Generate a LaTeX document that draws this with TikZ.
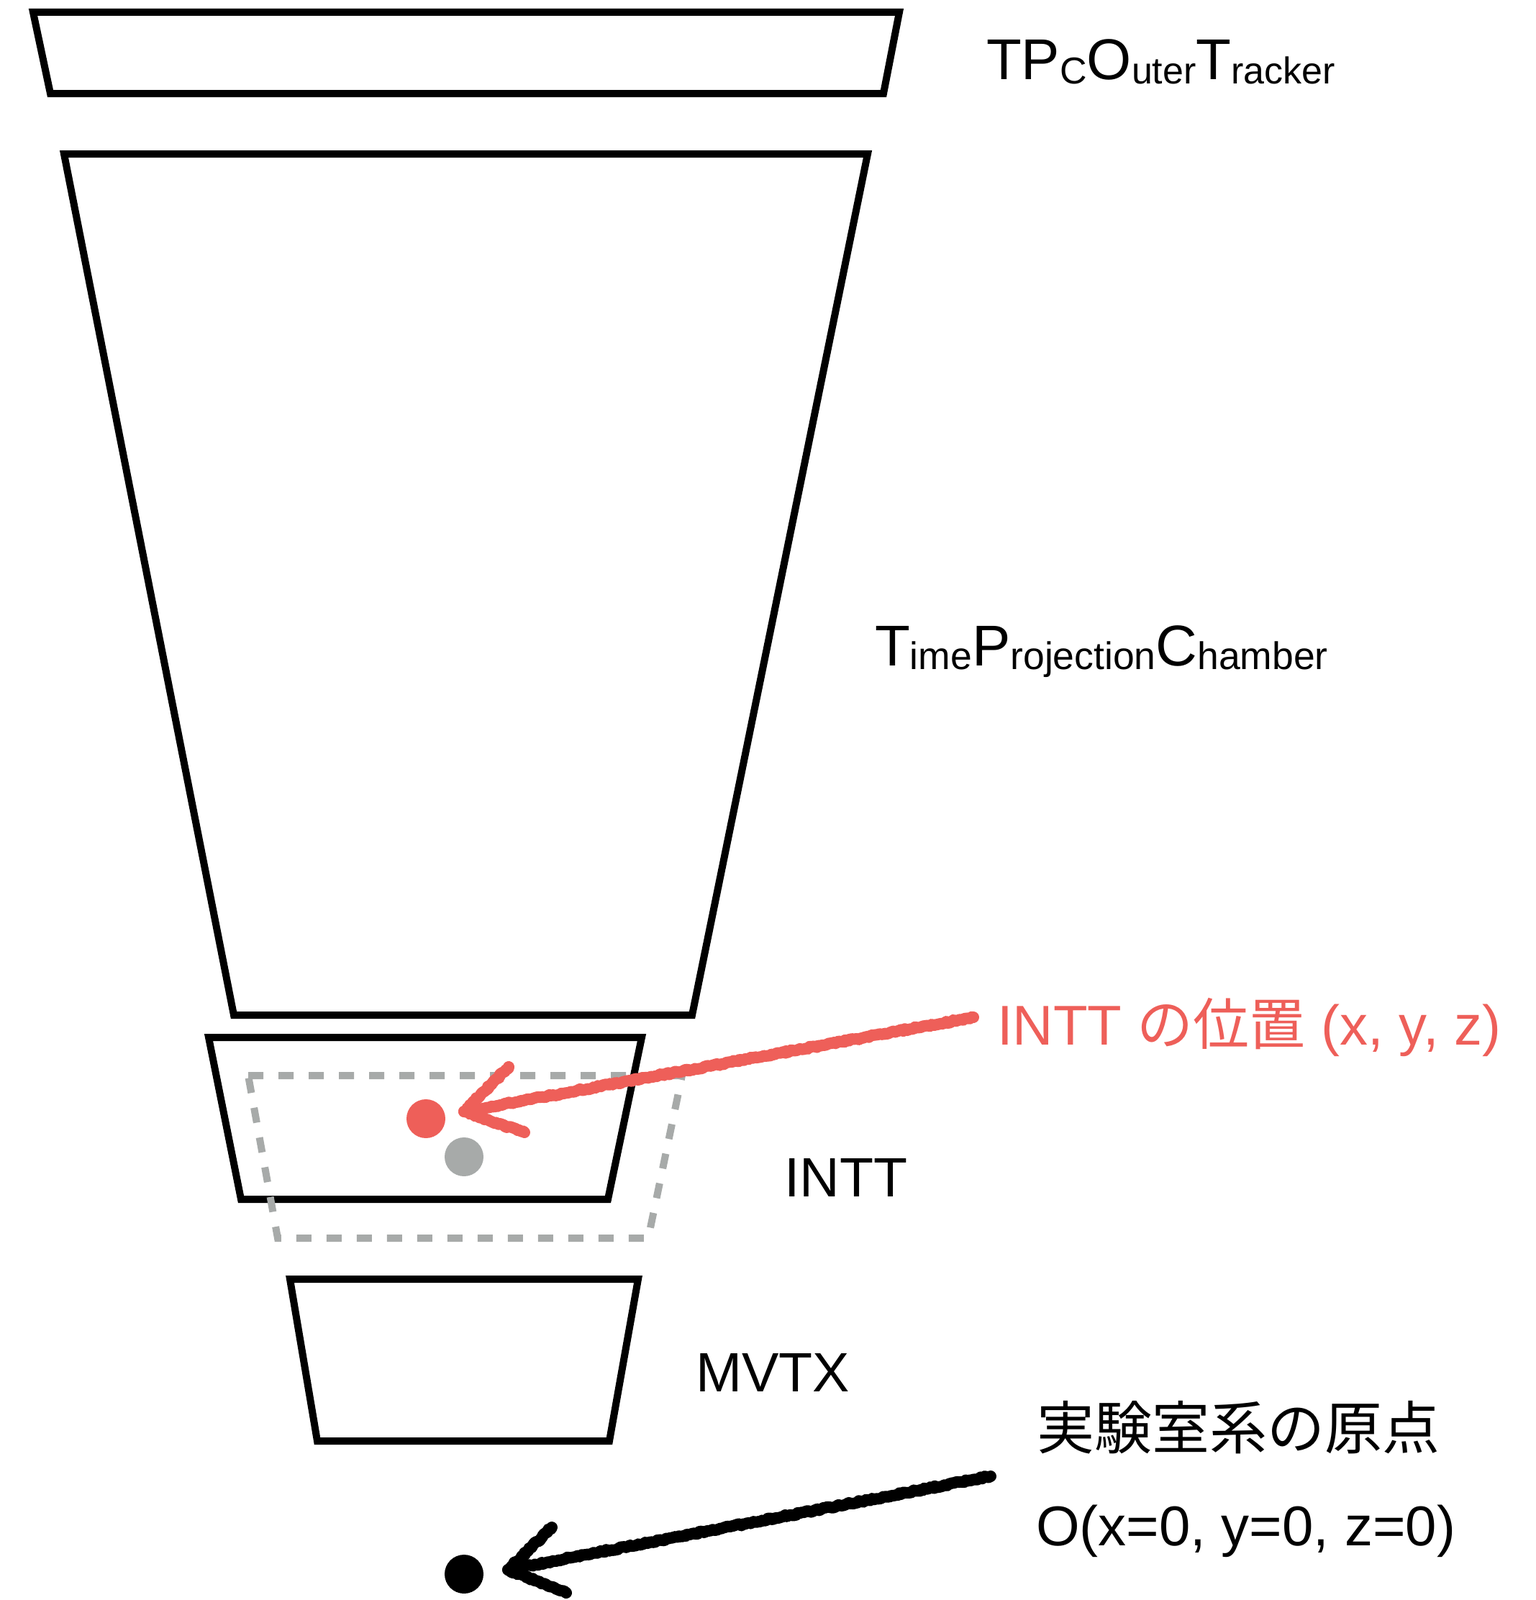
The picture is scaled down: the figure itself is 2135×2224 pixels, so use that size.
\documentclass[tikz,border=0pt]{standalone}
\usepackage{fontspec}
\setmainfont{Liberation Sans}
\newfontfamily\cjk{Noto Sans CJK JP}
\usetikzlibrary{decorations.pathmorphing}
\definecolor{redc}{HTML}{EE5F59}
\definecolor{grayc}{HTML}{A7AAA9}
\newcommand{\bigf}{\fontsize{80}{96}\selectfont}
\newcommand{\smf}{\fontsize{52}{62}\selectfont}
\newcommand{\smft}{\fontsize{53.5}{62}\selectfont}
\newcommand{\lblf}{\fontsize{77}{90}\selectfont}
\newcommand{\redf}{\fontsize{78}{92}\selectfont}
\newcommand{\jpf}{\fontsize{80}{96}\selectfont}
\newcommand{\lo}[1]{\raisebox{-6pt}{\smf #1}}
\newcommand{\lot}[1]{\raisebox{-5pt}{\smft #1}}
\begin{document}
\begin{tikzpicture}[x=1pt,y=-1pt,
  det/.style={draw=black,line width=10pt,line join=miter},
  dashbox/.style={draw=grayc,line width=10pt,dash pattern=on 21pt off 21pt},
  chalk/.style={line width=16pt,line cap=round,line join=round,decorate,
    decoration={random steps,segment length=3pt,amplitude=1.4pt}},
  txt/.style={anchor=base west,inner sep=0pt,outer sep=0pt},
]
\useasboundingbox (0,0) rectangle (2135,2224);
% detectors
\draw[det] (46,17) -- (1250,17) -- (1228,130) -- (70,130) -- cycle;
\draw[det] (89,214) -- (1206,214) -- (962,1411) -- (325,1411) -- cycle;
\draw[det] (290,1442) -- (892,1442) -- (845,1667) -- (335,1667) -- cycle;
\draw[det] (403,1778) -- (887,1778) -- (847,2003) -- (441,2003) -- cycle;
% shifted INTT
\draw[dashbox] (345,1495) -- (948,1495) -- (901,1721) -- (386,1721) -- cycle;
% dots
\fill[redc] (592,1555) circle (27) coordinate (reddot);
\fill[grayc] (645,1608) circle (27) coordinate (graydot);
\fill[black] (645,2188) circle (27) coordinate (origin);
% labels
\node[txt] (tpcot) at (1371,110) {\bigf TP\lo{C}O\lo{uter}T\lo{racker}};
\node[txt] (tpc) at (1216,925) {\bigf T\lot{ime}P\lot{rojection}C\lot{hamber}};
\node[txt] (intt) at (1090,1663) {\lblf INTT};
\node[txt] (mvtx) at (967,1934) {\lblf MVTX};
\node[txt,text=redc] (inttpos) at (1386,1452) {\redf INTT {\cjk の位置} (x, y, z)};
\node[txt] (labjp) at (1441,2014) {\jpf\cjk 実験室系の原点};
\node[txt] (labo) at (1440,2148) {\fontsize{78}{94}\selectfont O(x=0, y=0, z=0)};
% red arrow
\coordinate (rtail) at (1353,1414);
\coordinate (rtip) at (645,1545);
\coordinate (rb1) at (707,1483);
\coordinate (rb2) at (729,1574);
\draw[chalk,redc] (rtail) -- (rtip);
\draw[chalk,redc] (rb1) -- (rtip) -- (rb2);
% black arrow
\coordinate (btail) at (1377,2052);
\coordinate (btip) at (706,2182);
\coordinate (bb1) at (767,2123);
\coordinate (bb2) at (787,2214);
\draw[chalk,black] (btail) -- (btip);
\draw[chalk,black] (bb1) -- (btip) -- (bb2);
\end{tikzpicture}
\end{document}
